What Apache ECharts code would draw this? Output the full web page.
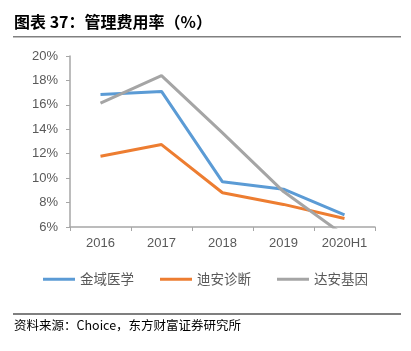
<!DOCTYPE html>
<html><head><meta charset="utf-8">
<script src="https://cdn.jsdelivr.net/npm/echarts@6/dist/echarts.min.js"></script>
<style>html,body{margin:0;padding:0;background:#fff}#c{width:411px;height:351px}</style>
</head><body><div id="c"></div>
<script>
const categories = ['2016','2017','2018','2019','2020H1'];
const jinyu = [16.85, 17.1, 9.7, 9.1, 7.0];
const dian = [11.8, 12.75, 8.8, 7.85, 6.7];
const daan = [16.15, 18.4, 13.7, 8.9, 5.3];
const seriesNames = ['金域医学','迪安诊断','达安基因'];
const yMin = 6, yMax = 20, yStep = 2;

const chart = echarts.init(document.getElementById('c'), null, {renderer:'canvas'});
const cjk = '"Noto Sans CJK SC", sans-serif';
const lineSeries = (name, data, color) => ({
  name, type:'line', data, symbol:'none', clip:true,
  lineStyle:{width:3, color}, itemStyle:{color}
});
chart.setOption({
  animation:false,
  grid:{left:70, right:36, top:56, bottom:124},
  xAxis:{type:'category', data:categories, boundaryGap:true,
    axisLine:{lineStyle:{color:'#a6a6a6', width:1.5}},
    axisTick:{show:true, length:4, lineStyle:{color:'#a6a6a6'}},
    axisLabel:{color:'#595959', fontSize:13, fontFamily:'"Liberation Sans", Arial, sans-serif', margin:10}},
  yAxis:{type:'value', min:yMin, max:yMax, interval:yStep,
    axisLine:{show:true, lineStyle:{color:'#a6a6a6', width:1.5}},
    axisTick:{show:true, length:4, lineStyle:{color:'#a6a6a6'}},
    splitLine:{show:false},
    axisLabel:{color:'#595959', fontSize:13, fontFamily:'"Liberation Sans", Arial, sans-serif', margin:12, formatter: v => v + '%'}},
  legend:{bottom:60, left:'center', itemWidth:32, itemHeight:3, itemGap:26, icon:'rect',
    textStyle:{color:'#595959', fontSize:13.5, fontFamily:cjk},
    data:seriesNames},
  series:[
    lineSeries(seriesNames[0], jinyu, '#5B9BD5'),
    lineSeries(seriesNames[1], dian, '#ED7D31'),
    lineSeries(seriesNames[2], daan, '#A5A5A5')
  ],
  graphic:[
    {type:'text', left:14, top:14, style:{text:'图表 37：管理费用率（%）', fill:'#000', font:'bold 16px "Noto Sans CJK SC", sans-serif'}},
    {type:'rect', shape:{x:13, y:36, width:388, height:1.5}, style:{fill:'#808080'}},
    {type:'rect', shape:{x:13, y:313.5, width:388, height:1}, style:{fill:'#000'}},
    {type:'text', left:14, top:319, style:{text:'资料来源：Choice，东方财富证券研究所', fill:'#000', font:'12.5px "Noto Sans CJK SC", sans-serif'}}
  ]
});
</script></body></html>
